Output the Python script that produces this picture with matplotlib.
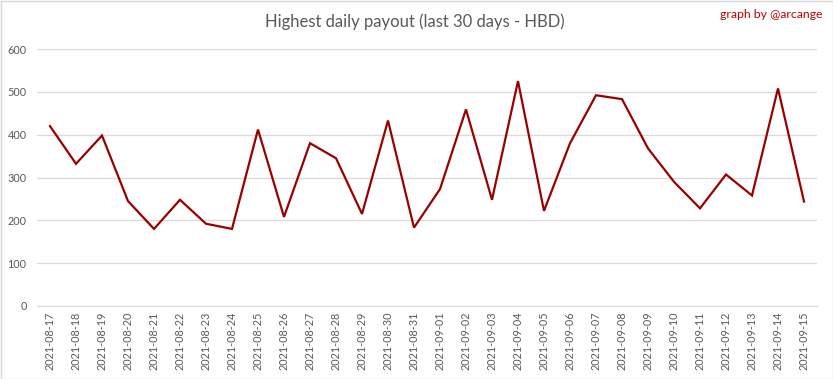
import matplotlib
matplotlib.use("Agg")
import matplotlib.pyplot as plt
from matplotlib.patches import Rectangle

dates = ["2021-08-17", "2021-08-18", "2021-08-19", "2021-08-20", "2021-08-21", "2021-08-22",
         "2021-08-23", "2021-08-24", "2021-08-25", "2021-08-26", "2021-08-27", "2021-08-28",
         "2021-08-29", "2021-08-30", "2021-08-31", "2021-09-01", "2021-09-02", "2021-09-03",
         "2021-09-04", "2021-09-05", "2021-09-06", "2021-09-07", "2021-09-08", "2021-09-09",
         "2021-09-10", "2021-09-11", "2021-09-12", "2021-09-13", "2021-09-14", "2021-09-15"]
payout = [420, 332, 398, 245, 180, 248, 192, 180, 412, 208, 380, 345, 215, 433, 183,
          273, 459, 248, 525, 222, 380, 492, 483, 368, 290, 228, 307, 258, 508, 244]
yticks = [0, 100, 200, 300, 400, 500, 600]

plt.rcParams['font.family'] = ['Lato', 'DejaVu Sans']

fig = plt.figure(figsize=(8.33, 3.79), dpi=100)
ax = fig.add_axes([37/833, 1-306/379, 780/833, 257/379])

x = list(range(len(dates)))
ax.plot(x, payout, color='#990000', linewidth=1.6, solid_joinstyle='miter')

ax.set_xlim(-0.5, len(dates) - 0.5)
ax.set_ylim(0, 600)
ax.set_yticks(yticks)
ax.set_yticklabels([str(v) for v in yticks])
ax.set_xticks(x)
ax.set_xticklabels(dates, rotation=90)
ax.grid(axis='y', color='#d9d9d9', linewidth=0.9)
ax.set_axisbelow(True)
for s in ['top', 'right', 'left']:
    ax.spines[s].set_visible(False)
ax.spines['bottom'].set_color('#d9d9d9')
ax.tick_params(axis='both', length=0, colors='#595959', labelsize=7.8)
ax.tick_params(axis='y', pad=7.5)
ax.tick_params(axis='x', pad=4)

fig.text(415/833, 1-22/379, "Highest daily payout (last 30 days - HBD)", ha='center', va='center',
         fontsize=12, color='#595959')
fig.text(822/833, 1-14/379, "graph by @arcange", ha='right', va='center', fontsize=8.8, color='#c00000')

fig.patches.append(Rectangle((0.5/833, 0.5/379), 1-1/833, 1-1/379, transform=fig.transFigure,
                             fill=False, edgecolor='#d9d9d9', linewidth=1))

fig.savefig("out.png", dpi=100)
